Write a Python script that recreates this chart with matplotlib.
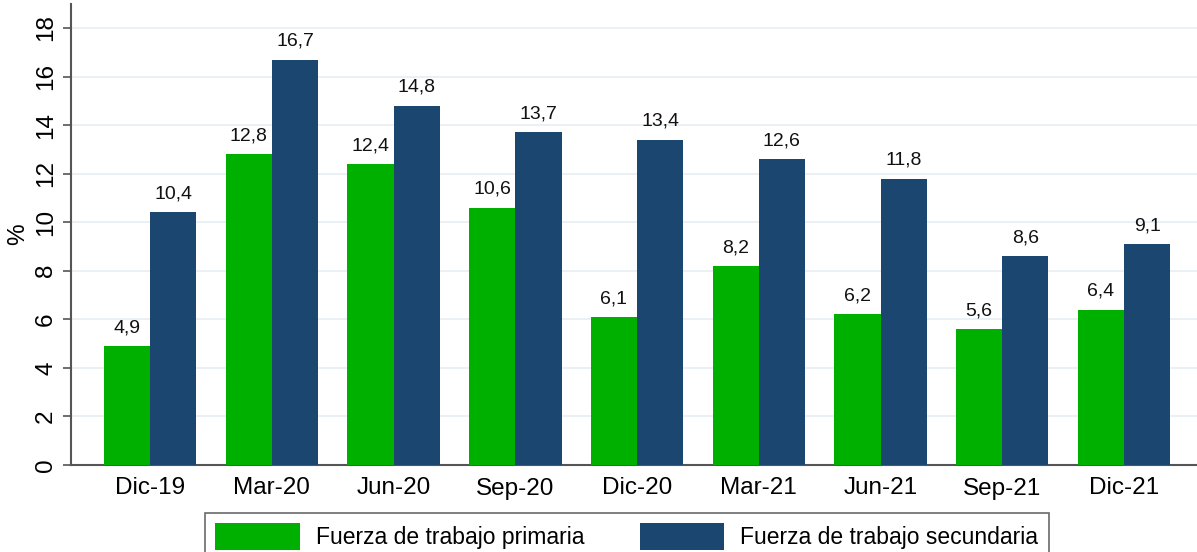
import numpy as np
import matplotlib
matplotlib.use('Agg')
import matplotlib.pyplot as plt

plt.rcParams['font.family'] = ['Liberation Sans', 'DejaVu Sans']

periodos = ["Dic-19", "Mar-20", "Jun-20", "Sep-20", "Dic-20", "Mar-21", "Jun-21", "Sep-21", "Dic-21"]
primaria = [4.9, 12.8, 12.4, 10.6, 6.1, 8.2, 6.2, 5.6, 6.4]
secundaria = [10.4, 16.7, 14.8, 13.7, 13.4, 12.6, 11.8, 8.6, 9.1]

verde = '#00B000'
azul = '#1B466F'

fig = plt.figure(figsize=(11.97, 5.52), dpi=100)
ax = fig.add_axes([71 / 1197, 87 / 552, 1 - 71 / 1197, (465 - 3.7) / 552])

x = np.arange(len(periodos))
w = 0.38
b1 = ax.bar(x - w / 2, primaria, width=w, color=verde, label="Fuerza de trabajo primaria", zorder=3)
b2 = ax.bar(x + w / 2, secundaria, width=w, color=azul, label="Fuerza de trabajo secundaria", zorder=3)

for bars, vals in ((b1, primaria), (b2, secundaria)):
    for r, v in zip(bars, vals):
        ax.text(r.get_x() + r.get_width() / 2, v + 0.4, f"{v:.1f}".replace('.', ','),
                ha='center', va='bottom', fontsize=14, color='#111111')

ax.set_xlim(-0.65, 8.6)
ax.set_ylim(0, 19)
ax.set_yticks(range(0, 19, 2))
ax.set_xticks(x)
ax.set_xticklabels(periodos, fontsize=17.5)
ax.tick_params(axis='x', length=0, pad=9)
ax.tick_params(axis='y', length=6, width=1.2, color='#555555', labelsize=17.5, labelrotation=90, pad=4)
for lab in ax.get_yticklabels():
    lab.set_va('center')
ax.set_ylabel("%", fontsize=17.5, labelpad=4)
ax.yaxis.grid(True, color='#E6EEF1', linewidth=1.2, zorder=0)
ax.set_axisbelow(True)
for s in ('top', 'right'):
    ax.spines[s].set_visible(False)
for s in ('left', 'bottom'):
    ax.spines[s].set_color('#555555')
    ax.spines[s].set_linewidth(1.5)

leg = fig.legend(handles=[b1, b2], loc='upper left', ncol=2,
                 bbox_to_anchor=(205 / 1197, 39 / 552),
                 fontsize=16.5, frameon=True, fancybox=False,
                 handlelength=3.7, handleheight=1.4, handletextpad=0.7,
                 borderpad=0.45, columnspacing=2.4, borderaxespad=0)
leg.get_frame().set_edgecolor('#444444')
leg.get_frame().set_linewidth(1.2)

fig.savefig("out.png", dpi=100)
